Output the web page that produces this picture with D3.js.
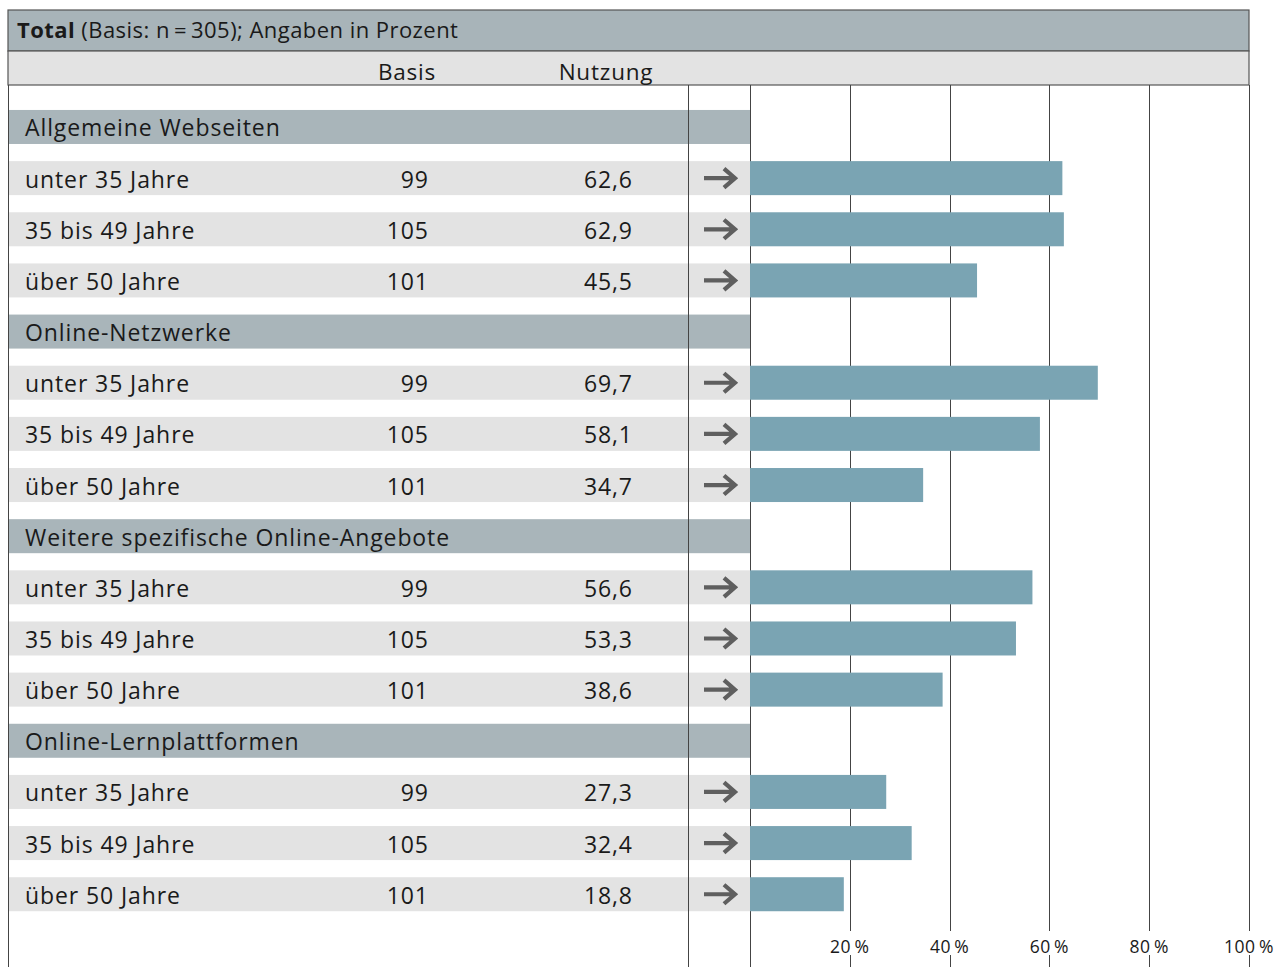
<!DOCTYPE html>
<html><head><meta charset="utf-8">
<script src="https://cdn.jsdelivr.net/npm/d3@7"></script>
<style>body{margin:0;background:#fff}svg{display:block}text{font-family:"Open Sans","Noto Sans",sans-serif;fill:#1a1a1a;font-weight:500}</style>
</head><body>
<script>
const groups = ["Allgemeine Webseiten","Online-Netzwerke","Weitere spezifische Online-Angebote","Online-Lernplattformen"];
const ageLabels = ["unter 35 Jahre","35 bis 49 Jahre","über 50 Jahre"];
const basis = [99,105,101];
const nutzung = [
  [62.6,62.9,45.5],
  [69.7,58.1,34.7],
  [56.6,53.3,38.6],
  [27.3,32.4,18.8]
];
const ticks = [20,40,60,80,100];

const W=1279,H=967;
const svg=d3.select("body").append("svg").attr("width",W).attr("height",H);
const L=8,R=1249,colLine=688,x0=750;
const x=d3.scaleLinear().domain([0,100]).range([x0,R]);
const fmt=v=>v.toFixed(1).replace(".",",");
const FS=23, LS=0.9, DY=9.5;

const rows=[];
groups.forEach((g,gi)=>{
  rows.push({type:"group",label:g});
  ageLabels.forEach((a,ai)=>rows.push({type:"item",label:a,basis:basis[ai],value:nutzung[gi][ai]}));
});
const y=d3.scaleBand().domain(d3.range(rows.length)).range([101.4,919.8]).paddingInner(0.335).paddingOuter(0.1675);
const bw=y.bandwidth();

svg.append("rect").attr("x",L).attr("y",10).attr("width",R-L).attr("height",41).attr("fill","#a8b4b9").attr("stroke","#555").attr("stroke-width",1.2);
svg.append("rect").attr("x",L).attr("y",51).attr("width",R-L).attr("height",34).attr("fill","#e3e3e3").attr("stroke","#555").attr("stroke-width",1.2);
const t=svg.append("text").attr("x",17).attr("y",38).attr("font-size",22).attr("letter-spacing",0.45);
t.append("tspan").attr("font-weight","bold").text("Total");
t.append("tspan").text(" (Basis: n\u2009=\u2009305); Angaben in Prozent");
svg.append("text").attr("x",407).attr("y",79.5).attr("text-anchor","middle").attr("font-size",22.5).attr("letter-spacing",0.8).text("Basis");
svg.append("text").attr("x",606).attr("y",79.5).attr("text-anchor","middle").attr("font-size",22.5).attr("letter-spacing",0.8).text("Nutzung");

rows.forEach((r,i)=>{
  svg.append("rect").attr("x",L).attr("y",y(i)).attr("width",x0-L).attr("height",bw)
    .attr("fill",r.type==="group"?"#a9b5ba":"#e3e3e3");
});

ticks.forEach(tk=>{
  const gx=Math.round(x(tk))+0.5;
  svg.append("line").attr("x1",gx).attr("x2",gx).attr("y1",85).attr("y2",931).attr("stroke","#444").attr("stroke-width",1);
  svg.append("line").attr("x1",gx).attr("x2",gx).attr("y1",955).attr("y2",H).attr("stroke","#444").attr("stroke-width",1);
  svg.append("text").attr("x",x(tk)).attr("y",952.5).attr("text-anchor","middle").attr("font-size",17.5).attr("letter-spacing",0.5).text(tk+"\u2009%");
});
[L,colLine,x0].forEach(lx=>{
  svg.append("line").attr("x1",lx+0.5).attr("x2",lx+0.5).attr("y1",85).attr("y2",H).attr("stroke","#444").attr("stroke-width",1);
});

rows.forEach((r,i)=>{
  const cy=y(i)+bw/2;
  if(r.type==="group"){
    svg.append("text").attr("x",25).attr("y",cy+DY).attr("font-size",FS).attr("letter-spacing",LS).text(r.label);
  } else {
    svg.append("rect").attr("x",x(0)).attr("y",y(i)).attr("width",x(r.value)-x(0)).attr("height",bw).attr("fill","#7aa4b3");
    svg.append("text").attr("x",25).attr("y",cy+DY).attr("font-size",FS).attr("letter-spacing",LS).text(r.label);
    svg.append("text").attr("x",428+LS).attr("y",cy+DY).attr("font-size",FS).attr("letter-spacing",LS).attr("text-anchor","end").text(r.basis);
    svg.append("text").attr("x",632+LS).attr("y",cy+DY).attr("font-size",FS).attr("letter-spacing",LS).attr("text-anchor","end").text(fmt(r.value));
    svg.append("path").attr("d",`M704,${cy}H734M724,${cy-9.5}L735,${cy}L724,${cy+9.5}`)
      .attr("fill","none").attr("stroke","#5f5f5f").attr("stroke-width",4.2).attr("stroke-linejoin","miter").attr("stroke-linecap","butt");
  }
});
</script>
</body></html>
